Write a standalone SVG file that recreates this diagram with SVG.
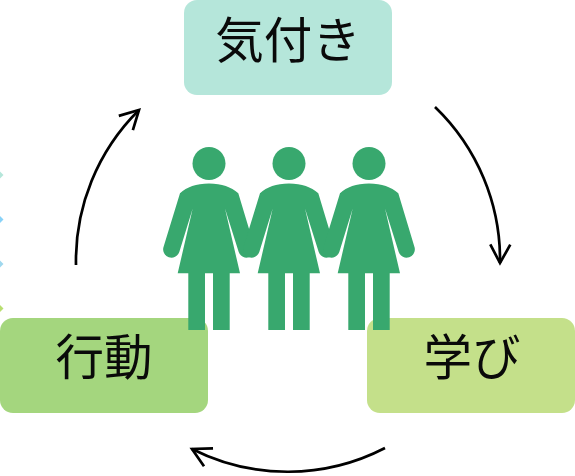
<svg xmlns="http://www.w3.org/2000/svg" width="575" height="476" viewBox="0 0 575 476">
<style>
.lbl{font-family:"Noto Sans CJK JP","Noto Sans",sans-serif;font-size:48.5px;fill:#0a0a0a;text-anchor:middle}
.fig{fill:#38A86E}
.arc{fill:none;stroke:#000;stroke-width:2.7;marker-end:url(#head)}
</style>
<defs>
<marker id="head" markerUnits="userSpaceOnUse" markerWidth="26" markerHeight="26" refX="22" refY="13" orient="auto" overflow="visible">
<path d="M3.5,3 L22,13 L3.5,23" fill="none" stroke="#000" stroke-width="2.7"/>
</marker>
<g id="person">
<circle cx="209" cy="163.5" r="16.5"/>
<path d="M209,183.5 C222,183.5 231,187 238.3,193.3 L254.4,246.7 A8,8 0 0 1 238.7,252 L225,208.5 L240,273.3 L229.7,273.3 L229.7,330 L213,330 L213,273.3 L205,273.3 L205,330 L188.3,330 L188.3,273.3 L177.7,273.3 L192.7,208.5 L179.3,252 A8,8 0 0 1 163.6,246.7 L180,193.3 C187,187 196,183.5 209,183.5 Z"/>
</g>
</defs>
<g id="edge-marks">
<path d="M0,171.5 L3.5,175 L0,178.5 Z" fill="#B5E6DA"/>
<path d="M0,216 L3.5,219.5 L0,223 Z" fill="#88D2F8"/>
<path d="M0,260.5 L3.5,264 L0,267.5 Z" fill="#A0D8EE"/>
<path d="M0,305 L3.5,308.5 L0,312 Z" fill="#B8DE70"/>
</g>
<g id="connectors">
<path class="arc" d="M435,107 A212,212 0 0 1 500,263"/>
<path class="arc" d="M385,448 A212,212 0 0 1 192,449"/>
<path class="arc" d="M76,265 A212,212 0 0 1 139,110"/>
</g>
<g id="node-awareness">
<rect x="184" y="0" width="208" height="95" rx="13" fill="#B5E6DA"/>
<text class="lbl" x="288" y="58">気付き</text>
</g>
<g id="node-action">
<rect x="0" y="318" width="208" height="95" rx="13" fill="#A4D67E"/>
<text class="lbl" x="104" y="375">行動</text>
</g>
<g id="node-learning">
<rect x="367" y="318" width="208" height="95" rx="13" fill="#C4E08A"/>
<text class="lbl" x="472" y="375">学び</text>
</g>
<g id="person-1" class="fig"><use href="#person"/></g>
<g id="person-2" class="fig"><use href="#person" x="80"/></g>
<g id="person-3" class="fig"><use href="#person" x="160"/></g>
</svg>
